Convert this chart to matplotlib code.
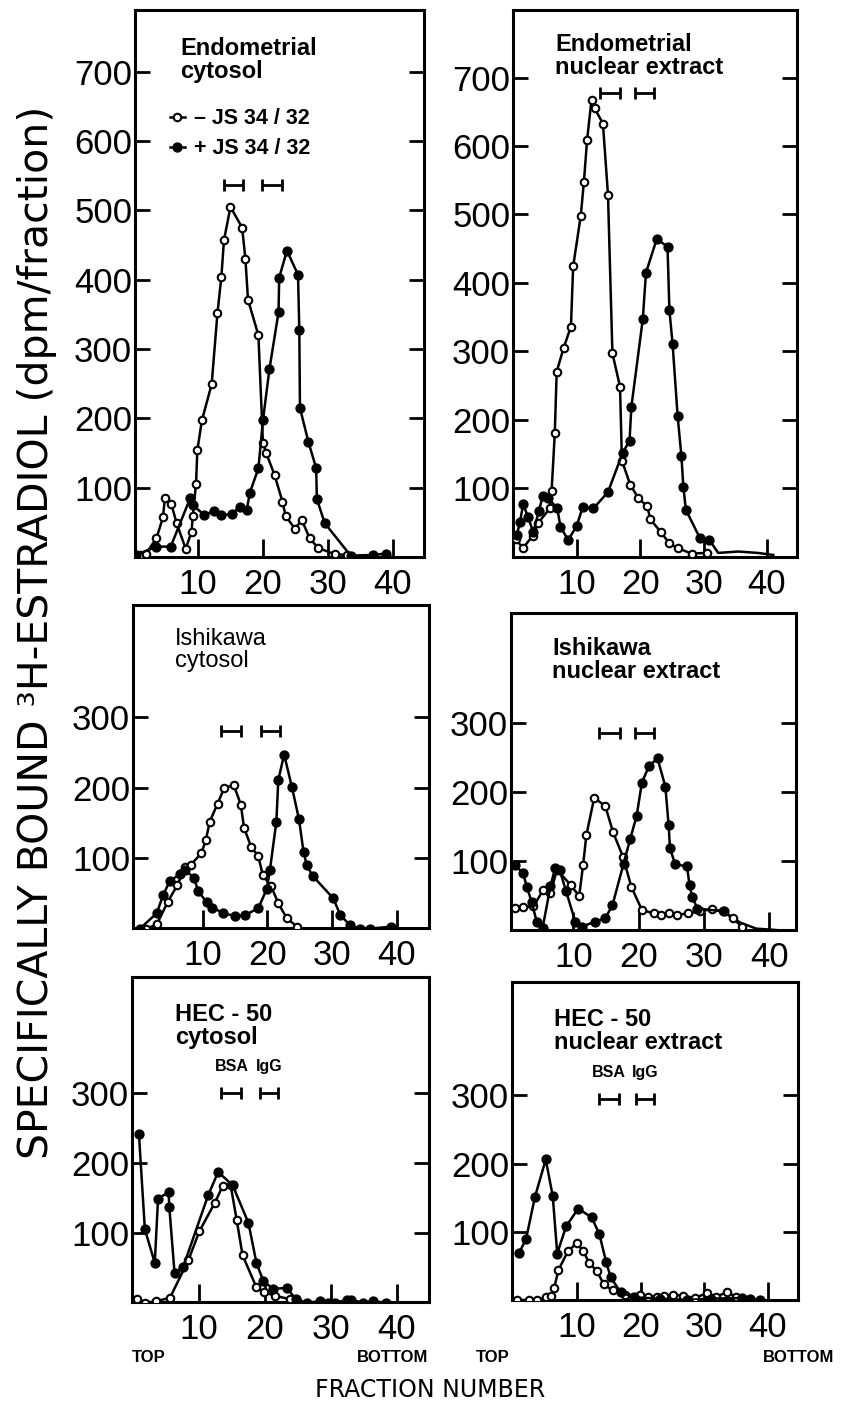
import matplotlib
matplotlib.use('Agg')
import matplotlib.pyplot as plt

plt.rcParams['font.family'] = ['Liberation Sans', 'DejaVu Sans']

# ---------------- data ----------------
# Panel A: Endometrial cytosol
a_open_x = [1.0, 2.0, 3.6, 4.6, 4.9, 5.9, 6.7, 8.1, 9.0, 9.2, 9.7, 9.9, 10.6, 12.1, 13.0, 13.6, 14.0, 15.0, 16.8, 17.3, 17.7, 19.3, 20.0, 20.5, 21.8, 23.0, 23.5, 24.9, 26.0, 27.2, 28.5, 31.1, 32.9]
a_open_y = [3, 5, 27, 57, 85, 76, 49, 12, 36, 59, 106, 154, 197, 249, 352, 404, 457, 505, 475, 430, 371, 320, 165, 150, 118, 80, 59, 41, 53, 27, 13, 4, 3]
a_fill_x = [0.5, 3.6, 5.8, 8.8, 9.2, 10.9, 12.5, 13.5, 15.2, 16.4, 17.5, 18.0, 19.3, 20.0, 21.0, 22.4, 22.5, 23.7, 25.4, 25.6, 25.7, 27.0, 28.2, 28.3, 29.5, 33.5, 37.0, 39.0]
a_fill_y = [3, 15, 15, 85, 75, 61, 66, 60, 62, 72, 68, 93, 128, 197, 271, 353, 403, 442, 407, 327, 215, 166, 128, 84, 49, 2, 3, 5]

# Panel B: Endometrial nuclear extract
b_open_x = [0.3, 1.5, 3.0, 3.9, 5.7, 6.0, 6.5, 6.8, 7.9, 9.05, 9.4, 10.6, 11.1, 11.6, 12.3, 12.8, 14.1, 14.9, 15.6, 16.8, 17.1, 18.4, 19.7, 21.1, 21.6, 23.2, 24.6, 25.9, 28.1, 30.5]
b_open_y = [25, 12, 30, 49, 70, 96, 180, 270, 305, 336, 424, 498, 548, 609, 668, 655, 633, 529, 297, 248, 140, 105, 85, 73, 54, 36, 19, 12, 4, 5]
b_fill_x = [0.5, 1.0, 1.5, 2.3, 3.1, 4.0, 4.6, 5.5, 6.9, 7.4, 8.6, 9.95, 10.9, 12.6, 14.9, 17.2, 18.3, 18.6, 20.4, 20.9, 22.6, 24.3, 24.6, 25.1, 25.9, 26.5, 26.8, 27.2, 29.4, 30.9]
b_fill_y = [31, 50, 76, 57, 35, 67, 88, 85, 70, 43, 24, 44, 72, 70, 94, 151, 169, 219, 347, 415, 464, 453, 360, 311, 205, 146, 102, 68, 27, 24]
b_tail_x = [30.9, 32.3, 35.5, 38.5, 41.0]
b_tail_y = [24, 5, 7, 5, 2]

# Panel C: Ishikawa cytosol
c_open_x = [1.3, 2.9, 4.6, 6.1, 7.3, 8.2, 9.8, 10.5, 11.1, 12.3, 13.3, 14.8, 15.9, 16.4, 17.5, 18.6, 19.3, 20.6, 21.7, 23.0, 24.6]
c_open_y = [0, 6, 38, 62, 88, 91, 107, 126, 152, 177, 199, 204, 176, 143, 116, 103, 76, 60, 36, 15, 3]
c_fill_x = [0.3, 2.9, 3.9, 4.9, 6.5, 7.3, 8.7, 9.3, 10.6, 11.5, 13.2, 15.0, 16.5, 18.6, 19.9, 20.4, 21.4, 21.7, 22.6, 23.8, 24.9, 25.6, 26.1, 27.0, 30.2, 31.3, 32.8, 34.3, 35.8, 39.2]
c_fill_y = [0, 22, 48, 67, 78, 83, 72, 53, 38, 30, 22, 18, 19, 29, 56, 83, 152, 211, 247, 201, 155, 109, 90, 75, 43, 19, 5, 0, 0, 3]

# Panel D: Ishikawa nuclear extract
d_open_x = [1.07, 2.3, 3.9, 5.4, 6.5, 7.5, 9.6, 10.9, 11.5, 12.0, 13.2, 14.9, 16.1, 17.6, 18.9, 20.5, 22.3, 23.5, 24.7, 25.9, 27.6, 29.4, 31.2, 32.9, 34.4, 35.8]
d_open_y = [33, 34, 35, 59, 54, 88, 66, 50, 95, 138, 192, 180, 142, 107, 63, 30, 25, 23, 25, 23, 25, 28, 31, 28, 18, 6]
d_fill_x = [1.07, 2.3, 2.9, 3.6, 4.4, 5.3, 6.5, 7.2, 7.9, 8.9, 10.3, 11.4, 13.3, 14.9, 16.0, 17.7, 18.7, 19.7, 20.5, 21.6, 22.9, 24.1, 24.6, 24.8, 25.6, 27.4, 27.8, 28.2, 29.0, 33.0]
d_fill_y = [95, 83, 63, 42, 13, 4, 64, 90, 88, 57, 13, 6, 13, 18, 37, 97, 132, 166, 214, 238, 249, 208, 152, 119, 96, 93, 66, 49, 32, 28]
d_tail_x = [33.0, 35.5, 38.0, 41.0]
d_tail_y = [28, 12, 3, 1]

# Panel E: HEC-50 cytosol
e_open_x = [0.55, 1.8, 3.5, 5.6, 8.4, 10.05, 12.4, 13.6, 14.8, 15.7, 16.6, 18.7, 19.9, 21.5, 23.8, 24.8]
e_open_y = [5, 0, 2, 7, 61, 102, 143, 167, 168, 119, 68, 22, 15, 10, 5, 3]
e_fill_x = [0.9, 1.8, 3.3, 3.8, 5.4, 5.5, 6.3, 7.6, 11.4, 12.9, 15.1, 17.5, 18.7, 19.75, 21.2, 23.3, 24.7, 26.3, 28.3, 29.6, 30.6, 32.4, 33.1, 34.9, 36.4, 38.4]
e_fill_y = [241, 105, 57, 149, 158, 137, 42, 51, 154, 187, 168, 114, 57, 31, 20, 21, 5, 0, 2, 0, 0, 4, 4, 0, 2, 0]

# Panel F: HEC-50 nuclear extract
f_open_x = [0.63, 2.4, 3.8, 5.1, 6.0, 6.4, 7.1, 8.6, 9.95, 11.0, 11.9, 13.1, 14.2, 15.6, 17.5, 19.9, 21.2, 22.5, 23.7, 25.1, 26.7, 28.5, 30.4, 31.8, 33.5, 35.0]
f_open_y = [0, 0, 0, 4, 6, 17, 44, 72, 83, 72, 54, 43, 23, 14, 8, 7, 5, 5, 6, 8, 6, 3, 10, 5, 11, 5]
f_fill_x = [0.9, 2.0, 3.4, 5.1, 6.2, 6.9, 8.3, 10.2, 12.3, 13.5, 14.6, 15.3, 16.9, 19.0, 23.0, 27.2, 31.0, 35.9, 37.2, 38.7]
f_fill_y = [69, 89, 151, 206, 152, 68, 108, 134, 121, 97, 55, 33, 11, 4, 2, 0, 2, 3, 2, 0]

# BSA / IgG marker bars (centre, half-width) and their heights
bar_centers = [[15.45, 21.35], [15.25, 20.7], [14.45, 20.45], [15.55, 20.9], [14.9, 20.6], [15.05, 20.65]]
bar_halfw = [[1.45, 1.55], [1.55, 1.5], [1.55, 1.45], [1.55, 1.5], [1.5, 1.4], [1.55, 1.45]]
bar_level = [537, 678, 280, 286, 300, 295]

titles = ["Endometrial\ncytosol", "Endometrial\nnuclear extract",
          "Ishikawa\ncytosol", "Ishikawa\nnuclear extract",
          "HEC - 50\ncytosol", "HEC - 50\nnuclear extract"]
title_weight = ['bold', 'bold', 'normal', 'bold', 'bold', 'bold']
legend_labels = ["\u2013 JS 34 / 32", "+ JS 34 / 32"]
x_ticks = [10, 20, 30, 40]
y_ticks_top = [100, 200, 300, 400, 500, 600, 700]
y_ticks_low = [100, 200, 300]

# ---------------- layout ----------------
W, H = 855, 1424
fig = plt.figure(figsize=(W / 100, H / 100), dpi=100)

boxes = [(135, 424, 10, 557), (513, 797, 10, 557),
         (133, 429, 605, 928), (511, 796, 613, 930),
         (132, 429, 977, 1302), (512, 798, 982, 1300)]
xlims = [(0.3, 44.8), (-0.1, 44.75), (-0.77, 45.0), (0.46, 44.1), (-0.15, 44.85), (-0.2, 44.7)]
ylims = [(0, 789), (-1, 799), (1, 459), (1, 459), (1, 466), (0, 466)]
title_pos = [(0.156, 0.951), (0.148, 0.958), (0.142, 0.929), (0.144, 0.924), (0.145, 0.92), (0.147, 0.918)]

series = [
    (a_open_x, a_open_y, a_fill_x, a_fill_y, None, None),
    (b_open_x, b_open_y, b_fill_x, b_fill_y, b_tail_x, b_tail_y),
    (c_open_x, c_open_y, c_fill_x, c_fill_y, None, None),
    (d_open_x, d_open_y, d_fill_x, d_fill_y, d_tail_x, d_tail_y),
    (e_open_x, e_open_y, e_fill_x, e_fill_y, None, None),
    (f_open_x, f_open_y, f_fill_x, f_fill_y, None, None),
]

txtfam = ['Liberation Sans', 'DejaVu Sans']
axes = []
for i, (l, r, t, b) in enumerate(boxes):
    ax = fig.add_axes([l / W, 1 - b / H, (r - l) / W, (b - t) / H])
    axes.append(ax)
    ox, oy, fx, fy, tx, ty = series[i]
    lo, = ax.plot(ox, oy, color='black', lw=1.8, marker='o', ms=5.4, mfc='white',
                  mec='black', mew=1.5, zorder=3)
    lf, = ax.plot(fx, fy, color='black', lw=1.8, marker='o', ms=6.4, mfc='black',
                  mec='black', zorder=3)
    if tx is not None:
        ax.plot(tx, ty, color='black', lw=1.8, zorder=2)
    ax.errorbar(bar_centers[i], [bar_level[i]] * 2, xerr=bar_halfw[i], fmt='none',
                ecolor='black', elinewidth=2.0, capsize=4.5, capthick=2.0, zorder=4)
    ax.set_xlim(*xlims[i])
    ax.set_ylim(*ylims[i])
    ax.set_xticks(x_ticks)
    ax.set_yticks(y_ticks_top if i < 2 else y_ticks_low)
    ax.tick_params(axis='both', direction='in', length=11, width=2.0,
                   labelsize=25, colors='black')
    ax.tick_params(axis='y', right=True, pad=2)
    ax.tick_params(axis='x', pad=8, length=13)
    for s in ax.spines.values():
        s.set_linewidth(2.2)
    ax.text(title_pos[i][0], title_pos[i][1], titles[i], transform=ax.transAxes,
            ha='left', va='top', fontsize=17, fontweight=title_weight[i], family=txtfam,
            linespacing=1.0)
    if i == 0:
        ax.legend([lo, lf], legend_labels, loc='upper left', bbox_to_anchor=(0.12, 0.82),
                  frameon=False, handlelength=0.7, handletextpad=0.45, borderpad=0,
                  borderaxespad=0, labelspacing=0.4, numpoints=1,
                  prop={'family': txtfam, 'weight': 'bold', 'size': 15.5})
    if i >= 4:
        for c, lab in zip(bar_centers[i], ["BSA", "IgG"]):
            ax.text(c, bar_level[i] + 38, lab, ha='center', va='center', fontsize=11.5,
                    fontweight='bold', family=txtfam)

# TOP / BOTTOM labels (below the tick labels)
ytb5 = (1302 - 1357) / 325
ytb6 = (1300 - 1357) / 318
axes[4].text(0.0, ytb5, "TOP", transform=axes[4].transAxes, ha='left', va='center',
             fontsize=12, fontweight='bold', family=txtfam)
axes[4].text(0.758, ytb5, "BOTTOM", transform=axes[4].transAxes, ha='left', va='center',
             fontsize=12, fontweight='bold', family=txtfam)
axes[5].text(-0.01, ytb6, "TOP", transform=axes[5].transAxes, ha='right', va='center',
             fontsize=12, fontweight='bold', family=txtfam)
axes[5].text(0.878, ytb6, "BOTTOM", transform=axes[5].transAxes, ha='left', va='center',
             fontsize=12, fontweight='bold', family=txtfam)

fig.text(37 / W, 1 - 632 / H, "SPECIFICALLY BOUND \u00b3H-ESTRADIOL (dpm/fraction)",
         rotation=90, ha='center', va='center', fontsize=29.5, family=['DejaVu Sans'])
fig.text(430 / W, 1 - 1390 / H, "FRACTION NUMBER", ha='center', va='center',
         fontsize=17, family=['DejaVu Sans'])

fig.savefig('out.png', dpi=100)
